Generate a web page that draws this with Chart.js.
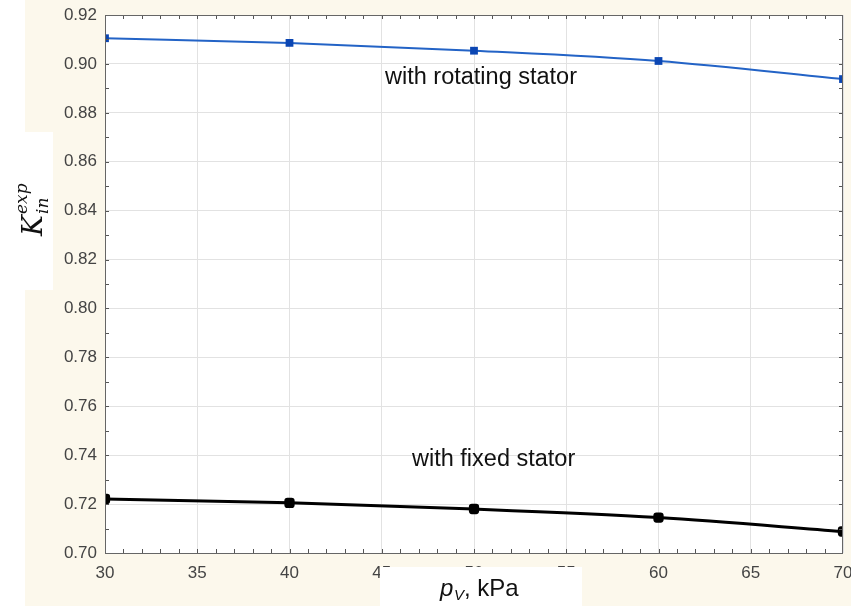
<!DOCTYPE html>
<html>
<head>
<meta charset="utf-8">
<script src="https://cdn.jsdelivr.net/npm/chart.js@4"></script>
<style>
  html, body { margin: 0; padding: 0; background: #ffffff; }
  #wrap { width: 851px; height: 606px; }
</style>
</head>
<body>
<div id="wrap"><canvas id="kChart" width="851" height="606"></canvas></div>
<script>
// values
const pressure = [30, 40, 50, 60, 70];
const rotatingStator = [0.9105, 0.9086, 0.9054, 0.9012, 0.8938];
const fixedStator = [0.7221, 0.7205, 0.718, 0.7145, 0.7088];
const xRange = [30, 70];
const yRange = [0.70, 0.92];

const toPoints = (ys) => pressure.map((x, i) => ({ x: x, y: ys[i] }));

// background, white patches and plot area fill
const backdrop = {
  id: "backdrop",
  beforeDraw(chart) {
    const ctx = chart.ctx;
    const a = chart.chartArea;
    ctx.save();
    ctx.fillStyle = "#fcf8ec";
    ctx.fillRect(0, 0, chart.width, chart.height);
    ctx.fillStyle = "#ffffff";
    ctx.fillRect(0, 0, 25, chart.height);
    ctx.fillRect(0, 132, 53, 158);
    ctx.fillRect(a.left, a.top, a.right - a.left, a.bottom - a.top);
    ctx.restore();
  },
};

// inward ticks on all four sides, titles and the two notes
const decorations = {
  id: "decorations",
  afterDraw(chart) {
    const ctx = chart.ctx;
    const a = chart.chartArea;
    const xs = chart.scales.x;
    const ys = chart.scales.y;
    ctx.save();
    ctx.strokeStyle = "#555";
    ctx.lineWidth = 1;
    ctx.beginPath();
    for (let v = xRange[0] + 1; v < xRange[1]; v++) {
      const px = Math.round(xs.getPixelForValue(v)) + 0.5;
      ctx.moveTo(px, a.bottom); ctx.lineTo(px, a.bottom - 4);
      ctx.moveTo(px, a.top); ctx.lineTo(px, a.top + 4);
    }
    for (let k = 1; k < 22; k++) {
      const py = Math.round(ys.getPixelForValue(yRange[0] + k * 0.01)) + 0.5;
      ctx.moveTo(a.left, py); ctx.lineTo(a.left + 4, py);
      ctx.moveTo(a.right, py); ctx.lineTo(a.right - 4, py);
    }
    ctx.stroke();
    ctx.strokeStyle = "#666";
    ctx.strokeRect(a.left + 0.5, a.top + 0.5, a.right - a.left - 1, a.bottom - a.top);

    // notes
    ctx.fillStyle = "#111";
    ctx.font = "23.5px 'Liberation Sans', Arial, sans-serif";
    ctx.textBaseline = "middle";
    ctx.textAlign = "left";
    ctx.fillText("with rotating stator", 385, 78);
    ctx.fillText("with fixed stator", 412, 460);

    // x title on its white box
    ctx.fillStyle = "#ffffff";
    ctx.fillRect(380, 567, 202, 39);
    ctx.fillStyle = "#111";
    ctx.font = "italic 24px 'Liberation Sans', Arial, sans-serif";
    ctx.fillText("p", 440, 589);
    ctx.font = "italic 15px 'Liberation Sans', Arial, sans-serif";
    ctx.fillText("V", 454, 596);
    ctx.font = "24px 'Liberation Sans', Arial, sans-serif";
    ctx.fillText(", kPa", 464, 589);

    // y title, rotated
    ctx.translate(33, 212);
    ctx.rotate(-Math.PI / 2);
    ctx.textBaseline = "alphabetic";
    ctx.font = "italic 28px 'DejaVu Serif', 'Liberation Serif', serif";
    ctx.fillText("K", -24, 9);
    ctx.font = "italic 17px 'DejaVu Serif', 'Liberation Serif', serif";
    ctx.fillText("exp", -2, -6);
    ctx.fillText("in", -2, 15);
    ctx.restore();
  },
};

const kChart = new Chart(document.getElementById("kChart"), {
  type: "line",
  data: {
    datasets: [
      {
        label: "with rotating stator",
        data: toPoints(rotatingStator),
        borderColor: "#2363c6",
        backgroundColor: "#0b46b3",
        borderWidth: 2,
        pointStyle: "rect",
        pointRadius: 5.5,
        pointBorderWidth: 0,
        cubicInterpolationMode: "monotone",
      },
      {
        label: "with fixed stator",
        data: toPoints(fixedStator),
        borderColor: "#000000",
        backgroundColor: "#000000",
        borderWidth: 3,
        pointStyle: "rectRounded",
        pointRadius: 6,
        pointBorderWidth: 0,
        cubicInterpolationMode: "monotone",
      },
    ],
  },
  options: {
    responsive: false,
    animation: false,
    layout: { autoPadding: false, padding: { top: 15, right: 8, left: 0, bottom: 0 } },
    plugins: {
      legend: { display: false },
      tooltip: { enabled: false },
    },
    scales: {
      x: {
        type: "linear",
        min: xRange[0],
        max: xRange[1],
        border: { display: false },
        grid: { color: "#e2e2e2", drawTicks: false },
        ticks: {
          stepSize: 5,
          padding: 10,
          color: "#444",
          font: { family: "'Liberation Sans', Arial, sans-serif", size: 17 },
        },
        afterFit(scale) {
          scale.height = 53;
          scale.paddingLeft = 0;
          scale.paddingRight = 0;
        },
      },
      y: {
        min: yRange[0],
        max: yRange[1],
        border: { display: false },
        grid: { color: "#e2e2e2", drawTicks: false },
        ticks: {
          stepSize: 0.02,
          padding: 8,
          color: "#444",
          font: { family: "'Liberation Sans', Arial, sans-serif", size: 17 },
          callback: (v) => v.toFixed(2),
        },
        afterFit(scale) {
          scale.width = 105;
          scale.paddingTop = 0;
          scale.paddingBottom = 0;
        },
      },
    },
  },
  plugins: [backdrop, decorations],
});
</script>
</body>
</html>
